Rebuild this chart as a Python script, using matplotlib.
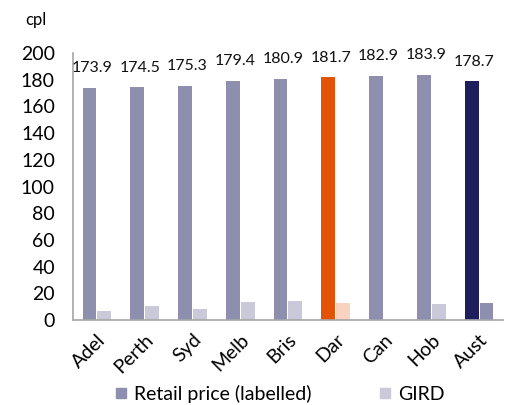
import matplotlib
matplotlib.use("Agg")
import matplotlib.pyplot as plt
import numpy as np
from matplotlib.lines import Line2D

categories = ["Adel", "Perth", "Syd", "Melb", "Bris", "Dar", "Can", "Hob", "Aust"]
retail = [173.9, 174.5, 175.3, 179.4, 180.9, 181.7, 182.9, 183.9, 178.7]
gird = [6.7, 10.2, 8.2, 13.2, 14.5, 12.7, 0.0, 12.0, 12.7]
yticks = [0, 20, 40, 60, 80, 100, 120, 140, 160, 180, 200]

C_RET = "#8E8FAF"
C_GIRD = "#C9C9DA"
retail_colors = [C_RET] * 5 + ["#E35205", C_RET, C_RET, "#1E1E5C"]
gird_colors = [C_GIRD] * 5 + ["#F9D3BF", C_GIRD, C_GIRD, C_RET]

plt.rcParams['font.family'] = ['Lato', 'DejaVu Sans']

fig = plt.figure(figsize=(5.08, 4.05), dpi=100)
ax = fig.add_axes([0.1437, 0.2099, 0.8463, 0.6592])

x = np.arange(len(categories))
w = 0.29
off = 0.155
ax.bar(x - off, retail, width=w, color=retail_colors)
ax.bar(x + off, gird, width=w, color=gird_colors)

for xi, v in zip(x, retail):
    ax.annotate(f"{v:.1f}", (xi - off + 0.05, v), xytext=(0, 9), textcoords="offset points",
                ha="center", va="bottom", fontsize=11.5, color="#111111")

ax.set_xlim(-0.5, len(categories) - 0.5)
ax.set_ylim(0, 200)
ax.set_yticks(yticks)
ax.set_yticklabels([str(t) for t in yticks], fontsize=14)
ax.set_xticks(x)
ax.set_xticklabels(categories, fontsize=14, rotation=45, ha="right", rotation_mode="anchor")
ax.tick_params(axis="y", length=0, pad=13)
ax.tick_params(axis="x", length=0, pad=8)
for s in ["top", "right"]:
    ax.spines[s].set_visible(False)
for s in ["left", "bottom"]:
    ax.spines[s].set_color("#A6A6A6")
    ax.spines[s].set_linewidth(1.2)

fig.text(25 / 508, 1 - 20 / 405, "cpl", fontsize=12, va="center", ha="left")

handles = [Line2D([], [], marker="s", linestyle="none", color=C_RET, markersize=7.5),
           Line2D([], [], marker="s", linestyle="none", color=C_GIRD, markersize=7.5)]
fig.legend(handles, ["Retail price (labelled)", "GIRD"], loc="center",
           bbox_to_anchor=(278 / 508, 1 - 394 / 405), ncol=2, frameon=False,
           fontsize=14, handletextpad=0.15, columnspacing=3.3, handlelength=1.0)

fig.savefig("out.png", dpi=100)
